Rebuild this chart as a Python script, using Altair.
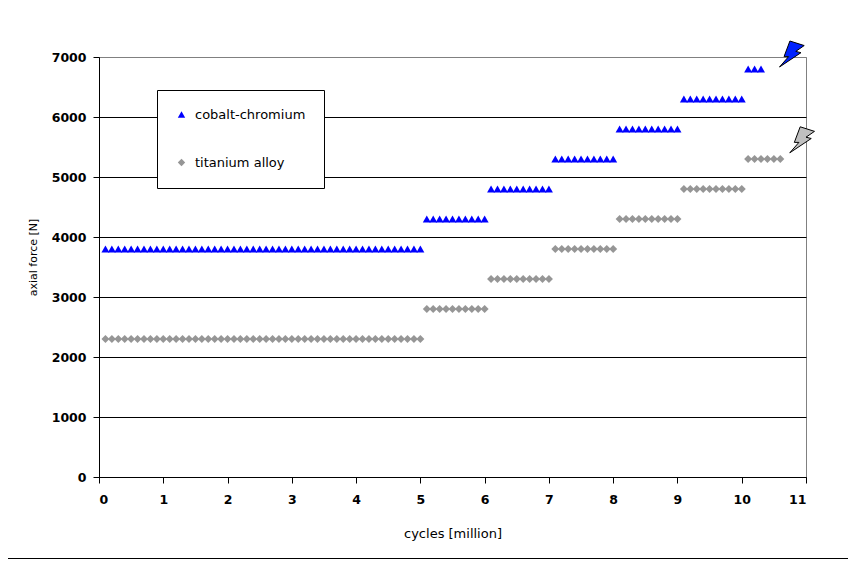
import altair as alt
import pandas as pd

# cycles [million] at which each load level was recorded
cycles = [
    0.1, 0.2, 0.3, 0.4, 0.5, 0.6, 0.7, 0.8, 0.9, 1.0,
    1.1, 1.2, 1.3, 1.4, 1.5, 1.6, 1.7, 1.8, 1.9, 2.0,
    2.1, 2.2, 2.3, 2.4, 2.5, 2.6, 2.7, 2.8, 2.9, 3.0,
    3.1, 3.2, 3.3, 3.4, 3.5, 3.6, 3.7, 3.8, 3.9, 4.0,
    4.1, 4.2, 4.3, 4.4, 4.5, 4.6, 4.7, 4.8, 4.9, 5.0,
    5.1, 5.2, 5.3, 5.4, 5.5, 5.6, 5.7, 5.8, 5.9, 6.0,
    6.1, 6.2, 6.3, 6.4, 6.5, 6.6, 6.7, 6.8, 6.9, 7.0,
    7.1, 7.2, 7.3, 7.4, 7.5, 7.6, 7.7, 7.8, 7.9, 8.0,
    8.1, 8.2, 8.3, 8.4, 8.5, 8.6, 8.7, 8.8, 8.9, 9.0,
    9.1, 9.2, 9.3, 9.4, 9.5, 9.6, 9.7, 9.8, 9.9, 10.0,
    10.1, 10.2, 10.3, 10.4, 10.5, 10.6,
]

cobalt_force = ([3800] * 50 + [4300] * 10 + [4800] * 10 + [5300] * 10
                + [5800] * 10 + [6300] * 10 + [6800] * 3)
titanium_force = ([2300] * 50 + [2800] * 10 + [3300] * 10 + [3800] * 10
                  + [4300] * 10 + [4800] * 10 + [5300] * 6)

series_names = ["cobalt-chromium", "titanium alloy"]
series_colors = ["#0000FF", "#969696"]
series_shapes = ["triangle-up", "diamond"]

x_ticks = [0, 1, 2, 3, 4, 5, 6, 7, 8, 9, 10, 11]
y_ticks = [0, 1000, 2000, 3000, 4000, 5000, 6000, 7000]

# failure markers (lightning bolts) at the end of each series
fail_x = [10.78, 10.94]
fail_y = [7050, 5620]
fail_fill = ["#0022FF", "#C0C0C0"]

rows = []
for c, f in zip(cycles[:len(cobalt_force)], cobalt_force):
    rows.append({"cycles": c, "force": f, "material": series_names[0]})
for c, f in zip(cycles[:len(titanium_force)], titanium_force):
    rows.append({"cycles": c, "force": f, "material": series_names[1]})
df = pd.DataFrame(rows)

fail_df = pd.DataFrame({"x": fail_x, "y": fail_y, "fill": fail_fill})

FONT = "DejaVu Sans"

x_scale = alt.Scale(domain=[0, 11], nice=False, zero=True)
y_scale = alt.Scale(domain=[0, 7000], nice=False)

points = alt.Chart(df).mark_point(filled=True, size=64, opacity=1).encode(
    x=alt.X("cycles:Q", scale=x_scale,
            axis=alt.Axis(values=x_ticks, format="d", grid=False, tickSize=6,
                          labelPadding=10, title="cycles [million]",
                          titleY=56, titleBaseline="middle",
                          titleFontSize=13, titleFontWeight="normal")),
    y=alt.Y("force:Q", scale=y_scale,
            axis=alt.Axis(values=y_ticks, format="d", grid=True,
                          tickSize=6, labelPadding=7,
                          gridColor=alt.condition("datum.value == 7000",
                                                  alt.value("#808080"),
                                                  alt.value("black")),
                          title="axial force [N]", titleX=-66, titleY=200,
                          titleAngle=270, titleBaseline="middle",
                          titleAlign="center",
                          titleFontSize=11, titleFontWeight="normal")),
    color=alt.Color("material:N",
                    scale=alt.Scale(domain=series_names, range=series_colors),
                    legend=alt.Legend(orient="none", legendX=58, legendY=33,
                                      title=None, fillColor="white",
                                      strokeColor="black", padding=18,
                                      rowPadding=34, labelFontSize=13,
                                      labelFont=FONT, labelOffset=7,
                                      labelColor="black",
                                      symbolSize=55, symbolStrokeWidth=0)),
    shape=alt.Shape("material:N",
                    scale=alt.Scale(domain=series_names, range=series_shapes)),
)

bolt_path = ("M-0.15,-1 L0.95,-0.65 L0.3,-0.2 L0.7,-0.1 L-0.95,1 "
             "L-0.25,0.2 L-0.6,0.2 Z")

bolts = alt.Chart(fail_df).mark_point(
    shape=bolt_path, size=676, filled=True, stroke="black", strokeWidth=1,
    opacity=1, clip=False
).encode(
    x=alt.X("x:Q", scale=x_scale),
    y=alt.Y("y:Q", scale=y_scale),
    fill=alt.Fill("fill:N", scale=None, legend=None),
)

bottom_line = alt.Chart(pd.DataFrame({"a": [0]})).mark_rule(
    color="black", strokeWidth=1, clip=False
).encode(x=alt.value(-95), x2=alt.value(760), y=alt.value(501.5))

chart = alt.layer(points, bolts, bottom_line).properties(
    width=707, height=420,
    autosize=alt.AutoSizeParams(type="none"),
    padding={"left": 91, "top": 49, "right": 42, "bottom": 84},
    background="white",
).configure_view(
    stroke="#808080", strokeWidth=1
).configure_axis(
    domainColor="black", tickColor="black", labelColor="black",
    titleColor="black", labelFont=FONT, titleFont=FONT,
    labelFontSize=12.5, labelFontWeight="bold", gridWidth=1,
    domainWidth=1, tickWidth=1,
)

chart.save("out.html", embed_options={"renderer": "svg", "actions": False})
